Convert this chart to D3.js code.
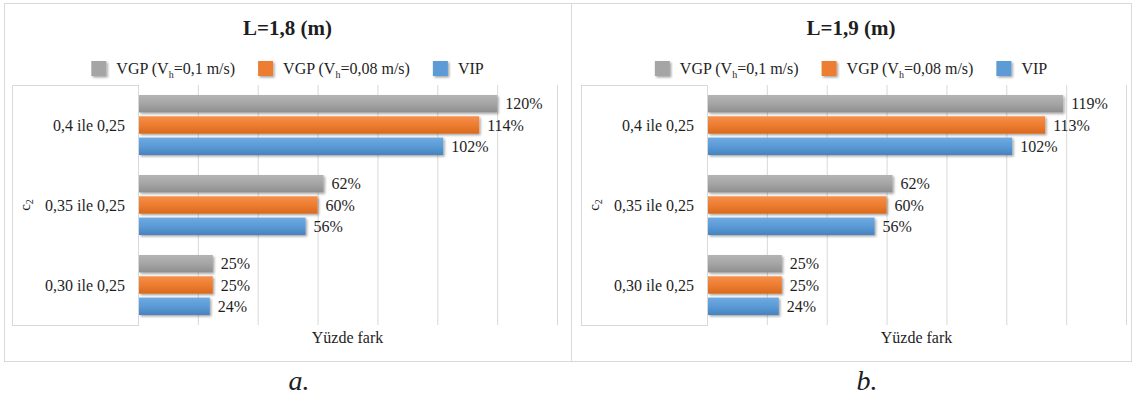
<!DOCTYPE html>
<html>
<head>
<meta charset="utf-8">
<script src="https://cdn.jsdelivr.net/npm/d3@7"></script>
<style>
  body { margin: 0; background: #fff; }
</style>
</head>
<body>
<div id="chart"></div>
<script>
// data
var categories = ["0,4 ile 0,25", "0,35 ile 0,25", "0,30 ile 0,25"];
var seriesKeys = ["vgp01", "vgp008", "vip"];
var panelTitles = ["L=1,8 (m)", "L=1,9 (m)"];
var panelTags = ["a.", "b."];
var xTicks = [0, 20, 40, 60, 80, 100, 120, 140];

var vgp01A = [120, 62, 25];
var vgp008A = [114, 60, 25];
var vipA = [102, 56, 24];

var vgp01B = [119, 62, 25];
var vgp008B = [113, 60, 25];
var vipB = [102, 56, 24];

var colors = {
  vgp01: ["#b4b4b4", "#a5a5a5", "#8e8e8e"],
  vgp008: ["#f68f4c", "#ed7d31", "#d9691e"],
  vip: ["#6eaae2", "#5b9bd5", "#4583c0"]
};

var serif = "Liberation Serif";
var ink = "#1e1e1e";

var svgWidth = 1134;
var svgHeight = 399;

var svg = d3.select("#chart")
  .append("svg")
  .attr("width", svgWidth)
  .attr("height", svgHeight);

var defs = svg.append("defs");

// gradients for the bars
seriesKeys.forEach(function(k) {
  var g = defs.append("linearGradient")
    .attr("id", "grad-" + k)
    .attr("x1", 0).attr("y1", 0).attr("x2", 0).attr("y2", 1);
  g.append("stop").attr("offset", "0%").attr("stop-color", colors[k][0]);
  g.append("stop").attr("offset", "50%").attr("stop-color", colors[k][1]);
  g.append("stop").attr("offset", "100%").attr("stop-color", colors[k][2]);
});

var shadow = defs.append("filter")
  .attr("id", "shadow")
  .attr("x", "-10%").attr("y", "-30%")
  .attr("width", "130%").attr("height", "170%");
shadow.append("feDropShadow")
  .attr("dx", 1.5).attr("dy", 1.5)
  .attr("stdDeviation", 1)
  .attr("flood-color", "#000")
  .attr("flood-opacity", 0.35);

var panels = [
  { left: 4, right: 571, dx: 0, title: panelTitles[0], tag: panelTags[0],
    values: { vgp01: vgp01A, vgp008: vgp008A, vip: vipA } },
  { left: 571, right: 1131, dx: 569, title: panelTitles[1], tag: panelTags[1],
    values: { vgp01: vgp01B, vgp008: vgp008B, vip: vipB } }
];

// every text gets the serif face directly
function addText(sel, size) {
  return sel.append("text")
    .attr("font-family", serif)
    .attr("font-size", size)
    .attr("fill", ink);
}

function drawPanel(p) {
  var g = svg.append("g");
  var cx = (p.left + p.right) / 2;

  // outer border
  g.append("rect")
    .attr("x", p.left + 0.5)
    .attr("y", 3.5)
    .attr("width", p.right - p.left)
    .attr("height", 358)
    .attr("fill", "#fff")
    .attr("stroke", "#d9d9d9");

  // title
  addText(g, "21px")
    .attr("x", cx)
    .attr("y", 35)
    .attr("text-anchor", "middle")
    .attr("font-weight", "bold")
    .text(p.title);

  // legend
  var legend = g.append("g");
  var lx = 0;
  var items = [
    { key: "vgp01", main: "VGP (V", sub: "h", rest: "=0,1 m/s)" },
    { key: "vgp008", main: "VGP (V", sub: "h", rest: "=0,08 m/s)" },
    { key: "vip", main: "VIP", sub: "", rest: "" }
  ];
  items.forEach(function(it) {
    legend.append("rect")
      .attr("x", lx)
      .attr("y", -8)
      .attr("width", 15)
      .attr("height", 15)
      .attr("fill", colors[it.key][1])
      .attr("filter", "url(#shadow)");
    var t = addText(legend, "16px")
      .attr("x", lx + 25)
      .attr("y", 5);
    t.append("tspan").text(it.main);
    if (it.sub) {
      t.append("tspan").attr("font-size", "10px").attr("dy", 4).text(it.sub);
      t.append("tspan").attr("dy", -4).text(it.rest);
    }
    lx += 25 + t.node().getComputedTextLength() + 23;
  });
  var legendW = lx - 23;
  legend.attr("transform", "translate(" + (cx - legendW / 2) + ",69)");

  // scales
  var x = d3.scaleLinear()
    .domain([0, 140])
    .range([138 + p.dx, 557 + p.dx]);

  var y = d3.scaleBand()
    .domain(categories)
    .range([85, 325])
    .paddingInner(0.25)
    .paddingOuter(0.125);

  var ySub = d3.scaleBand()
    .domain(seriesKeys)
    .range([0, y.bandwidth()])
    .paddingInner(0.18);

  // gridlines
  g.append("g")
    .selectAll("line")
    .data(xTicks.slice(1))
    .enter()
    .append("line")
    .attr("x1", d => x(d) + 0.5)
    .attr("x2", d => x(d) + 0.5)
    .attr("y1", 85)
    .attr("y2", 325)
    .attr("stroke", "#d9d9d9");

  // category box on the left
  g.append("rect")
    .attr("x", 12 + p.dx + 0.5)
    .attr("y", 85.5)
    .attr("width", x(0) - 12 - p.dx)
    .attr("height", 240)
    .attr("fill", "#fff")
    .attr("stroke", "#d9d9d9");

  // category labels
  var catG = g.append("g");
  categories.forEach(function(c) {
    addText(catG, "16px")
      .attr("x", 125 + p.dx)
      .attr("y", y(c) + y.bandwidth() / 2)
      .attr("dy", "0.35em")
      .attr("text-anchor", "end")
      .text(c);
  });

  // c2 axis title
  var c2 = addText(g, "15px")
    .attr("transform", "translate(" + (30 + p.dx) + "," + (y(categories[1]) + y.bandwidth() / 2) + ") rotate(-90)")
    .attr("text-anchor", "middle");
  c2.append("tspan").text("c");
  c2.append("tspan").attr("font-size", "10px").attr("dy", 3).text("2");

  // bars
  seriesKeys.forEach(function(k) {
    var vals = p.values[k];
    var grp = g.append("g");
    grp.selectAll("rect")
      .data(categories)
      .enter()
      .append("rect")
      .attr("x", x(0) + 1)
      .attr("y", d => y(d) + ySub(k))
      .attr("width", (d, i) => x(vals[i]) - x(0) - 1)
      .attr("height", ySub.bandwidth())
      .attr("fill", "url(#grad-" + k + ")")
      .attr("filter", "url(#shadow)");

    categories.forEach(function(c, i) {
      addText(grp, "16px")
        .attr("x", x(vals[i]) + 8)
        .attr("y", y(c) + ySub(k) + ySub.bandwidth() / 2)
        .attr("dy", "0.35em")
        .text(vals[i] + "%");
    });
  });

  // x axis title
  addText(g, "16px")
    .attr("x", (x(0) + x(140)) / 2)
    .attr("y", 337)
    .attr("dy", "0.35em")
    .attr("text-anchor", "middle")
    .text("Yüzde fark");

  // panel tag below
  addText(svg, "28px")
    .attr("x", p.dx === 0 ? 299 : 867)
    .attr("y", 390)
    .attr("text-anchor", "middle")
    .attr("font-style", "italic")
    .text(p.tag);
}

panels.forEach(drawPanel);
</script>
</body>
</html>
